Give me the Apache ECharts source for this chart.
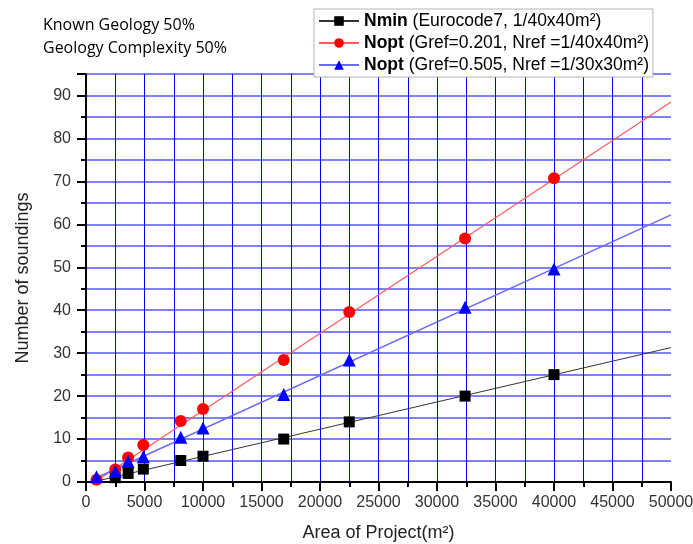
<!DOCTYPE html>
<html>
<head>
<meta charset="utf-8">
<script src="https://cdn.jsdelivr.net/npm/echarts@6/dist/echarts.min.js"></script>
<style>
html,body{margin:0;padding:0;background:#fff;}
#chart{width:693px;height:544px;}
</style>
</head>
<body>
<div id="chart"></div>
<script>
// ---- data ----
const seriesNames = [
  'Nmin (Eurocode7, 1/40x40m²)',
  'Nopt (Gref=0.201, Nref =1/40x40m²)',
  'Nopt (Gref=0.505, Nref =1/30x30m²)'
];
const nminAreas = [2500, 3600, 4900, 8100, 10000, 16900, 22500, 32400, 40000];
const nminValues = [1, 2, 3, 5, 6, 10, 14, 20, 25];
const noptAreas = [900, 2500, 3600, 4900, 8100, 10000, 16900, 22500, 32400, 40000];
const nopt1Values = [0.5, 2.9, 5.7, 8.6, 14.2, 17.0, 28.4, 39.6, 56.7, 70.7];
const nopt2Values = [1.2, 2.5, 4.8, 5.9, 10.4, 12.6, 20.4, 28.4, 40.7, 49.6];
// fitted lines: [start area, start value], [end area, end value]
const nminFit = [[900, 0.2], [50000, 31.3]];
const nopt1Fit = [[900, 0.3], [50000, 88.5]];
const nopt2Fit = [[900, 1.0], [50000, 62.2]];
const noteLines = ['Known Geology 50%', 'Geology Complexity 50%'];
const xAxisTitle = 'Area of Project(m²)';
const yAxisTitle = 'Number of soundings';

const zip = (xs, ys) => xs.map((x, i) => [x, ys[i]]);

const chart = echarts.init(document.getElementById('chart'), null, {renderer: 'canvas'});

const FONT = '"Liberation Sans", Arial, sans-serif';
const styles = [
  {color: '#000000', line: '#333333', lw: 1, symbol: 'rect', size: 11},
  {color: '#ff0000', line: '#ff5a5a', lw: 1.2, symbol: 'circle', size: 12},
  {color: '#0000ff', line: '#6a6aff', lw: 1.5, symbol: 'triangle', size: 13}
];
const fits = [nminFit, nopt1Fit, nopt2Fit];
const points = [zip(nminAreas, nminValues), zip(noptAreas, nopt1Values), zip(noptAreas, nopt2Values)];

const series = [];
for (let i = 0; i < 3; i++) {
  series.push({
    name: seriesNames[i], type: 'line', data: fits[i],
    showSymbol: false, symbol: styles[i].symbol, symbolSize: styles[i].size,
    lineStyle: {color: styles[i].line, width: styles[i].lw},
    itemStyle: {color: styles[i].color},
    silent: true, z: 3
  });
}
for (let i = 0; i < 3; i++) {
  series.push({
    name: seriesNames[i], type: 'scatter', data: points[i],
    symbol: styles[i].symbol, symbolSize: styles[i].size,
    itemStyle: {color: styles[i].color, opacity: 1},
    z: 4
  });
}

const option = {
  animation: false,
  backgroundColor: '#ffffff',
  grid: {left: 86, right: 22, top: 74, bottom: 62, containLabel: false, outerBoundsMode: 'none'},
  legend: {
    data: seriesNames,
    orient: 'vertical',
    left: 314, top: 9,
    itemWidth: 40, itemHeight: 12, itemGap: 4,
    padding: [3, 4, 3, 4],
    backgroundColor: '#ffffff',
    borderColor: '#b4b4b4', borderWidth: 1,
    z: 10,
    formatter: function (name) {
      const k = name.indexOf(' ');
      return '{b|' + name.slice(0, k) + '} {r|' + name.slice(k + 1) + '}';
    },
    textStyle: {
      fontFamily: FONT, fontSize: 17.5, color: '#000',
      rich: {
        b: {fontWeight: 'bold', fontSize: 17.5, fontFamily: FONT, color: '#000'},
        r: {fontSize: 17.5, fontFamily: FONT, color: '#000'}
      }
    }
  },
  graphic: [
    {type: 'text', left: 43, top: 17, style: {text: noteLines[0], font: '16px "Open Sans"', fill: '#000'}},
    {type: 'text', left: 43, top: 40, style: {text: noteLines[1], font: '16px "Open Sans"', fill: '#000'}}
  ],
  xAxis: {
    type: 'value', min: 0, max: 50000, interval: 5000,
    name: xAxisTitle, nameLocation: 'middle', nameGap: 42,
    nameTextStyle: {fontFamily: FONT, fontSize: 18, color: '#222'},
    axisLine: {show: true, onZero: false, lineStyle: {color: '#000', width: 2}},
    axisTick: {show: true, inside: false, length: 9, lineStyle: {color: '#000', width: 2}},
    minorTick: {show: true, splitNumber: 2, length: 5, lineStyle: {color: '#000', width: 2}},
    axisLabel: {margin: 13, fontFamily: FONT, fontSize: 16, color: '#333', formatter: v => String(v)},
    splitLine: {show: true, showMinLine: false, showMaxLine: false, lineStyle: {color: '#0000ff', width: 1}},
    minorSplitLine: {show: true, lineStyle: {color: '#0000ff', width: 1}}
  },
  yAxis: {
    type: 'value', min: 0, max: 95, interval: 10,
    name: yAxisTitle, nameLocation: 'middle', nameGap: 54, nameRotate: 90,
    nameTextStyle: {fontFamily: FONT, fontSize: 18, color: '#222'},
    axisLine: {show: true, onZero: false, lineStyle: {color: '#000', width: 2}},
    axisTick: {show: true, inside: false, length: 9, lineStyle: {color: '#000', width: 2}},
    minorTick: {show: true, splitNumber: 2, length: 5, lineStyle: {color: '#000', width: 2}},
    axisLabel: {margin: 15, showMaxLabel: false, fontFamily: FONT, fontSize: 16, color: '#333'},
    splitLine: {show: true, showMinLine: false, lineStyle: {color: '#8080ff', width: 2}},
    minorSplitLine: {show: true, lineStyle: {color: '#8080ff', width: 2}}
  },
  series: series
};
chart.setOption(option);
</script>
</body>
</html>
